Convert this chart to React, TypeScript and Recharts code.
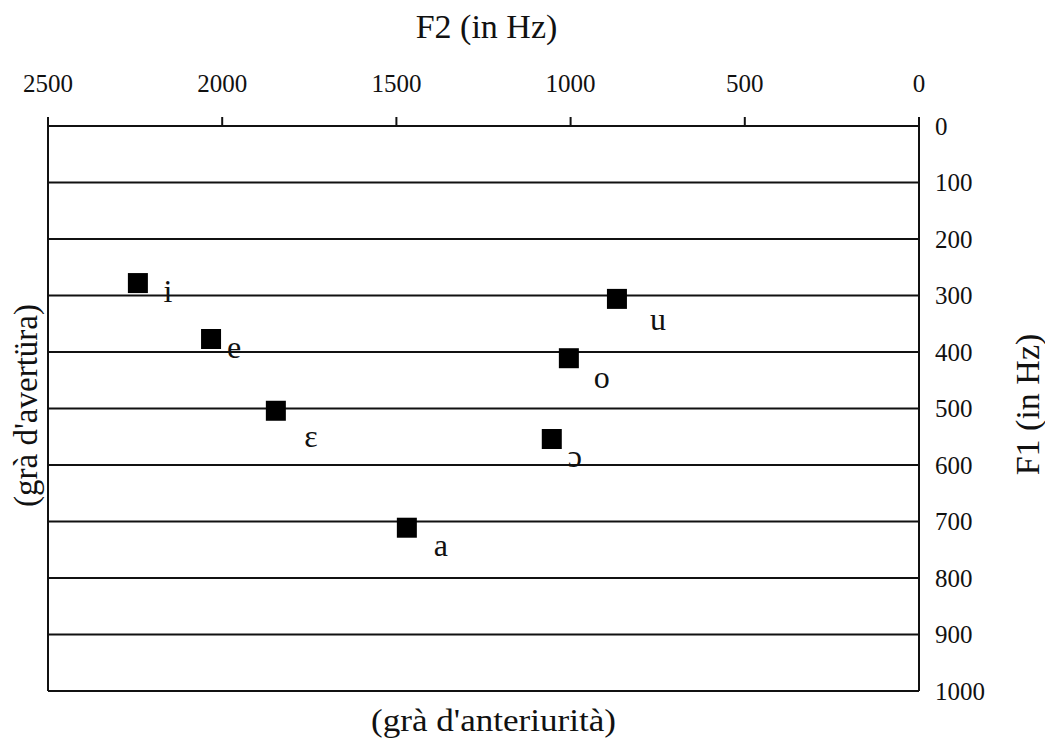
import React from "react";
import { ScatterChart, Scatter, XAxis, YAxis, CartesianGrid } from "recharts";

// vowel formants
const vowels = ["i", "e", "ɛ", "a", "ɔ", "o", "u"];
const f2Values = [2242, 2032, 1846, 1470, 1054, 1005, 867];
const f1Values = [278, 377, 504, 711, 554, 411, 306];

const f2Ticks = [2500, 2000, 1500, 1000, 500, 0];
const f1Ticks = [0, 100, 200, 300, 400, 500, 600, 700, 800, 900, 1000];

// where each vowel letter sits relative to its square (px)
const labelOffsets = [
  [30, 19],
  [23, 19],
  [35, 36],
  [34, 28],
  [23, 28],
  [33, 30],
  [41, 31],
];

const points = vowels.map((v, i) => ({
  vowel: v,
  f2: f2Values[i],
  f1: f1Values[i],
  idx: i,
}));

const SERIF = "'Liberation Serif', 'Times New Roman', serif";

const VowelMark = (props: any) => {
  const { cx, cy, payload } = props;
  if (cx == null || cy == null) return null;
  const [dx, dy] = labelOffsets[payload.idx];
  return (
    <g>
      <rect x={cx - 10} y={cy - 10} width={20} height={20} fill="#000" />
      <text
        x={cx + dx}
        y={cy + dy}
        textAnchor="middle"
        fontFamily={SERIF}
        fontSize={32}
        fill="#111"
      >
        {payload.vowel}
      </text>
    </g>
  );
};

const RightTitle = (props: any) => {
  const vb = props.viewBox;
  if (!vb) return null;
  const x = vb.x + 120;
  const y = vb.y + vb.height / 2 - 4;
  return (
    <text
      x={x}
      y={y}
      transform={`rotate(-90 ${x} ${y})`}
      textAnchor="middle"
      fontFamily={SERIF}
      fontSize={34}
      fill="#111"
    >
      F1 (in Hz)
    </text>
  );
};

const LeftTitle = (props: any) => {
  const vb = props.viewBox;
  if (!vb) return null;
  const x = vb.x + 37;
  const y = vb.y + vb.height / 2 - 3;
  return (
    <text
      x={x}
      y={y}
      transform={`rotate(-90 ${x} ${y})`}
      textAnchor="middle"
      fontFamily={SERIF}
      fontSize={33}
      fill="#111"
    >
      (grà d'avertüra)
    </text>
  );
};

const BottomTitle = (props: any) => {
  const vb = props.viewBox;
  if (!vb) return null;
  return (
    <text
      x={vb.x + vb.width / 2 + 10}
      y={vb.y + 40}
      textAnchor="middle"
      fontFamily={SERIF}
      fontSize={32}
      textLength={245}
      lengthAdjust="spacingAndGlyphs"
      fill="#111"
    >
      (grà d'anteriurità)
    </text>
  );
};

const TopTitle = (props: any) => {
  const vb = props.viewBox;
  if (!vb) return null;
  return (
    <text
      x={vb.x + vb.width / 2 + 3}
      y={vb.y - 28}
      textAnchor="middle"
      fontFamily={SERIF}
      fontSize={34}
      fill="#111"
    >
      F2 (in Hz)
    </text>
  );
};

export default function App() {
  const tickStyle = { fontFamily: SERIF, fontSize: 25, fill: "#111" };
  return (
    <div
      style={{
        position: "absolute",
        left: 0,
        top: 0,
        width: 1045,
        height: 740,
        background: "#fff",
      }}
    >
      <ScatterChart
        width={1045}
        height={740}
        margin={{ top: 66, right: 0, bottom: 0, left: 0 }}
        style={{ overflow: "visible" }}
      >
        <CartesianGrid
          xAxisId="top"
          yAxisId="right"
          vertical={false}
          stroke="#111"
          strokeWidth={2}
        />
        <XAxis
          xAxisId="top"
          orientation="top"
          type="number"
          dataKey="f2"
          domain={[0, 2500]}
          ticks={f2Ticks}
          reversed
          height={60}
          tickSize={9}
          tickMargin={25}
          tick={tickStyle}
          axisLine={{ stroke: "#111", strokeWidth: 2 }}
          tickLine={{ stroke: "#111", strokeWidth: 2 }}
          label={<TopTitle />}
        />
        <XAxis
          xAxisId="bottom"
          orientation="bottom"
          type="number"
          dataKey="f2"
          domain={[0, 2500]}
          reversed
          height={49}
          tick={false}
          tickLine={false}
          axisLine={false}
          label={<BottomTitle />}
        />
        <YAxis
          yAxisId="right"
          orientation="right"
          type="number"
          dataKey="f1"
          domain={[0, 1000]}
          ticks={f1Ticks}
          reversed
          width={126}
          tickSize={0}
          tickMargin={16}
          tick={{ ...tickStyle, textAnchor: "start" }}
          tickLine={false}
          axisLine={{ stroke: "#111", strokeWidth: 2 }}
          label={<RightTitle />}
        />
        <YAxis
          yAxisId="left"
          orientation="left"
          type="number"
          dataKey="f1"
          domain={[0, 1000]}
          reversed
          width={48}
          tick={false}
          tickLine={false}
          axisLine={{ stroke: "#111", strokeWidth: 2 }}
          label={<LeftTitle />}
        />
        <Scatter
          data={points}
          xAxisId="top"
          yAxisId="right"
          shape={<VowelMark />}
          isAnimationActive={false}
        />
      </ScatterChart>
    </div>
  );
}
